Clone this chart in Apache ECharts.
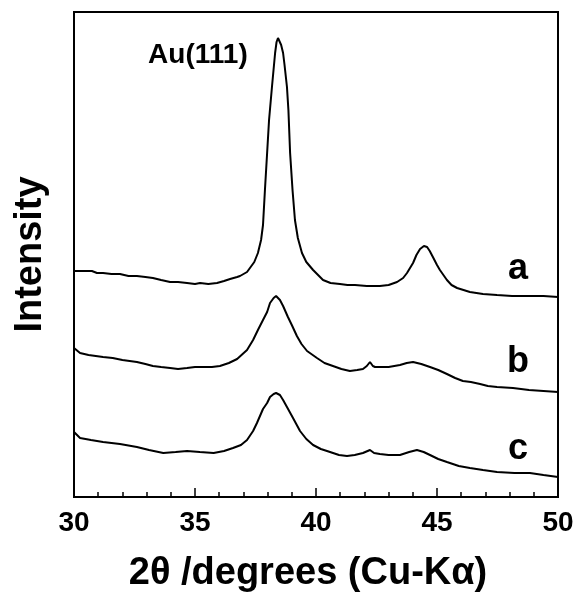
<!DOCTYPE html>
<html lang="en">
<head>
    <meta charset="UTF-8">
    <title>XRD patterns</title>
    <script src="https://cdn.jsdelivr.net/npm/echarts@6/dist/echarts.min.js"></script>
    <style>
        html, body { margin: 0; padding: 0; background: #fff; }
    </style>
</head>
<body>
    <div id="myChart" style="width: 579px; height: 599px;"></div>
    <script>
        // 2θ (deg), intensity (arb. units, curves offset)
        const curveA = [
            [30.00, 226], [30.74, 226], [30.95, 224], [31.20, 224], [31.55, 223],
            [31.90, 223], [32.25, 221], [32.60, 221], [32.95, 220], [33.26, 219],
            [33.60, 217], [33.97, 215], [34.30, 215], [34.67, 214], [35.00, 213],
            [35.21, 214], [35.55, 213], [35.91, 214], [36.20, 216], [36.45, 218],
            [36.74, 220], [36.86, 221], [37.15, 225], [37.27, 229], [37.45, 235],
            [37.60, 244], [37.73, 257], [37.81, 272], [37.89, 307], [37.98, 344],
            [38.06, 377], [38.18, 410], [38.31, 444], [38.37, 455], [38.43, 459],
            [38.50, 457], [38.56, 452], [38.64, 444], [38.70, 432], [38.80, 410],
            [38.86, 387], [38.93, 344], [39.03, 307], [39.13, 277], [39.25, 259],
            [39.42, 244], [39.60, 235], [39.88, 227], [40.29, 217], [40.60, 214],
            [40.99, 213], [41.30, 212], [41.61, 212], [42.10, 211], [42.64, 211],
            [43.00, 212], [43.35, 215], [43.60, 219], [43.76, 224], [44.01, 234],
            [44.15, 242], [44.30, 248], [44.46, 251], [44.59, 250], [44.70, 246],
            [44.83, 240], [45.00, 232], [45.12, 227], [45.41, 217], [45.60, 212],
            [45.83, 209], [46.36, 205], [46.90, 203], [47.48, 202], [48.10, 201],
            [48.84, 201], [49.40, 201], [50.00, 200]
        ];
        const curveB = [
            [30.00, 149], [30.25, 144], [30.60, 142], [31.20, 140], [31.60, 139],
            [32.00, 137], [32.30, 136], [32.60, 135], [32.95, 133], [33.26, 131],
            [33.60, 130], [33.97, 129], [34.30, 128], [34.67, 129], [35.00, 130],
            [35.33, 130], [35.70, 130], [36.03, 131], [36.40, 134], [36.74, 138],
            [37.15, 147], [37.40, 157], [37.60, 167], [37.81, 177], [37.98, 185],
            [38.10, 194], [38.25, 199], [38.35, 201], [38.51, 197], [38.64, 191],
            [38.84, 180], [39.00, 172], [39.21, 161], [39.40, 153], [39.63, 146],
            [40.04, 139], [40.35, 134], [40.70, 131], [41.05, 128], [41.40, 126],
            [41.70, 127], [41.94, 128], [42.10, 131], [42.23, 135], [42.35, 131],
            [42.44, 130], [42.64, 130], [43.00, 130], [43.47, 132], [43.75, 134],
            [44.01, 135], [44.35, 133], [44.71, 130], [45.05, 127], [45.41, 123],
            [45.75, 119], [46.07, 116], [46.40, 115], [46.78, 113], [47.10, 111],
            [47.48, 110], [48.14, 109], [48.80, 107], [49.40, 106], [50.00, 105]
        ];
        const curveC = [
            [30.00, 65], [30.25, 59], [30.70, 57], [31.20, 55], [31.90, 53],
            [32.60, 50], [33.10, 47], [33.69, 44], [34.20, 45], [34.67, 46],
            [35.20, 45], [35.77, 44], [36.20, 46], [36.57, 49], [36.90, 52],
            [37.15, 57], [37.40, 66], [37.56, 74], [37.81, 88], [37.98, 94],
            [38.10, 100], [38.25, 103], [38.35, 104], [38.51, 102], [38.64, 97],
            [38.80, 90], [39.05, 79], [39.34, 66], [39.60, 58], [39.88, 52],
            [40.20, 48], [40.58, 45], [40.95, 42], [41.28, 41], [41.60, 42],
            [41.94, 44], [42.23, 47], [42.40, 44], [42.64, 43], [43.00, 42],
            [43.47, 42], [43.85, 45], [44.17, 47], [44.45, 45], [44.71, 42],
            [45.05, 38], [45.41, 35], [45.90, 31], [46.36, 29], [46.90, 27],
            [47.48, 25], [48.20, 24], [48.84, 24], [49.40, 22], [50.00, 20]
        ];
        // curve labels and peak annotation (anchor in data coords)
        const curveLabels = [
            ['a', 48.35, 228],
            ['b', 48.35, 135],
            ['c', 48.35, 48]
        ];
        const peakLabel = ['Au(111)', 35.12, 442];

        const font = 'Liberation Sans, Arial, Helvetica, sans-serif';
        var myChart = echarts.init(document.getElementById('myChart'));

        function curve(data) {
            return {
                type: 'line',
                data: data,
                showSymbol: false,
                silent: true,
                lineStyle: { color: '#000', width: 2 }
            };
        }

        function textMark(item, size) {
            return {
                type: 'scatter',
                symbolSize: 0,
                silent: true,
                itemStyle: { opacity: 1 },
                data: [[item[1], item[2], item[0]]],
                label: {
                    show: true,
                    position: 'inside',
                    formatter: function (p) { return p.value[2]; },
                    color: '#000',
                    opacity: 1,
                    fontFamily: font,
                    fontWeight: 'bold',
                    fontSize: size
                }
            };
        }

        var option = {
            animation: false,
            backgroundColor: '#fff',
            grid: {
                left: 74, right: 21, top: 12, bottom: 102,
                show: true, borderColor: '#000', borderWidth: 2
            },
            xAxis: {
                type: 'value',
                min: 30, max: 50, interval: 5,
                name: '2θ /degrees (Cu-Kα)',
                nameLocation: 'middle',
                nameGap: 58,
                nameTextStyle: { color: '#000', fontFamily: font, fontWeight: 'bold', fontSize: 38, padding: [0, 16, 0, 0] },
                axisLine: { show: true, lineStyle: { color: '#000', width: 2 } },
                axisTick: { show: true, inside: true, length: 9, lineStyle: { color: '#000', width: 1.5 } },
                minorTick: { show: true, splitNumber: 5, length: 5, lineStyle: { color: '#000', width: 1.5 } },
                axisLabel: { color: '#000', fontFamily: font, fontWeight: 'bold', fontSize: 28, margin: 12 },
                splitLine: { show: false }
            },
            yAxis: {
                type: 'value',
                min: 0, max: 485,
                name: 'Intensity',
                nameLocation: 'middle',
                nameGap: 24,
                nameTextStyle: { color: '#000', fontFamily: font, fontWeight: 'bold', fontSize: 38 },
                axisLine: { show: false },
                axisTick: { show: false },
                axisLabel: { show: false },
                splitLine: { show: false }
            },
            series: [
                curve(curveA),
                curve(curveB),
                curve(curveC),
                textMark(peakLabel, 28)
            ].concat(curveLabels.map(function (l) { return textMark(l, 36); }))
        };
        myChart.setOption(option);
    </script>
</body>
</html>
